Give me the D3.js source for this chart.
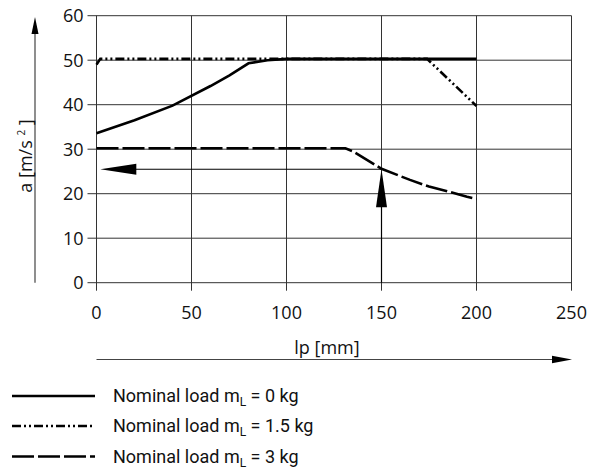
<!DOCTYPE html>
<html>
<head>
<meta charset="utf-8">
<script src="https://cdn.jsdelivr.net/npm/d3@7"></script>
<style>
  body { margin: 0; background: #fff; }
  svg { display: block; }
</style>
</head>
<body>
<svg id="chart" width="592" height="470"></svg>
<script>
// Acceleration vs. stroke chart

const xTicks = [0, 50, 100, 150, 200, 250];
const yTicks = [0, 10, 20, 30, 40, 50, 60];

// Nominal load 0 kg
const load0 = [
    {x: 0, y: 33.6}, {x: 20, y: 36.5}, {x: 40, y: 39.8}, {x: 60, y: 44.2},
    {x: 70, y: 46.6}, {x: 80, y: 49.3}, {x: 90, y: 50.0}, {x: 100, y: 50.3},
    {x: 200, y: 50.3}
];
// Nominal load 1.5 kg
const load15 = [
    {x: 0, y: 49.0}, {x: 2, y: 50.3}, {x: 174, y: 50.3}, {x: 200, y: 39.7}
];
// Nominal load 3 kg
const load3 = [
    {x: 0, y: 30.2}, {x: 131, y: 30.2}, {x: 135, y: 29.5}, {x: 150, y: 25.6},
    {x: 165, y: 23.1}, {x: 175, y: 21.6}, {x: 185, y: 20.5}, {x: 195, y: 19.3},
    {x: 200, y: 18.8}
];

// Reading example: lp = 150 mm -> a = 25.5 m/s²
const readX = 150;
const readY = 25.5;

const legendLabels = ["0 kg", "1.5 kg", "3 kg"];

const svg = d3.select("#chart");

const x = d3.scaleLinear().domain([0, 250]).range([96.5, 571.5]);
const y = d3.scaleLinear().domain([0, 60]).range([282.7, 15.7]);

const gridColor = "#333";
const font = "Open Sans, sans-serif";

// Grid
svg.append("g")
    .selectAll("line")
    .data(yTicks)
    .enter()
    .append("line")
    .attr("x1", x(0) - 9)
    .attr("x2", x(250))
    .attr("y1", d => y(d))
    .attr("y2", d => y(d))
    .attr("stroke", gridColor)
    .attr("stroke-width", 1);

svg.append("g")
    .selectAll("line")
    .data(xTicks)
    .enter()
    .append("line")
    .attr("x1", d => x(d))
    .attr("x2", d => x(d))
    .attr("y1", y(60))
    .attr("y2", y(0) + 8)
    .attr("stroke", gridColor)
    .attr("stroke-width", 1);

// Tick labels
svg.append("g")
    .selectAll("text")
    .data(yTicks)
    .enter()
    .append("text")
    .attr("x", x(0) - 13)
    .attr("y", d => y(d))
    .attr("dy", "0.36em")
    .attr("text-anchor", "end")
    .attr("font-family", font)
    .attr("font-size", "18px")
    .attr("fill", "#111")
    .text(d => d);

svg.append("g")
    .selectAll("text")
    .data(xTicks)
    .enter()
    .append("text")
    .attr("x", d => x(d))
    .attr("y", y(0) + 36)
    .attr("text-anchor", "middle")
    .attr("font-family", font)
    .attr("font-size", "18px")
    .attr("fill", "#111")
    .text(d => d);

// Data lines
const line = d3.line().x(d => x(d.x)).y(d => y(d.y));

const series = [
    {data: load3, dash: "22,4"},
    {data: load15, dash: "9,3,2,3,2,3"},
    {data: load0, dash: null}
];

series.forEach(s => {
    svg.append("path")
        .datum(s.data)
        .attr("d", line)
        .attr("fill", "none")
        .attr("stroke", "#000")
        .attr("stroke-width", 2.6)
        .attr("stroke-dasharray", s.dash);
});

// Reading arrows
svg.append("line")
    .attr("x1", x(readX)).attr("x2", x(readX))
    .attr("y1", y(0)).attr("y2", y(readY) + 10)
    .attr("stroke", "#000").attr("stroke-width", 1.2);
svg.append("path")
    .attr("d", `M${x(readX)},${y(readY)} L${x(readX) - 5.5},${y(readY) + 38} L${x(readX) + 5.5},${y(readY) + 38} Z`)
    .attr("fill", "#000");

svg.append("line")
    .attr("x1", x(readX)).attr("x2", x(2) + 10)
    .attr("y1", y(readY)).attr("y2", y(readY))
    .attr("stroke", "#000").attr("stroke-width", 1.2);
svg.append("path")
    .attr("d", `M${x(2)},${y(readY)} L${x(2) + 36},${y(readY) - 5.5} L${x(2) + 36},${y(readY) + 5.5} Z`)
    .attr("fill", "#000");

// Axis arrows and titles
const arrowColor = "#444";

svg.append("line")
    .attr("x1", 35).attr("x2", 35)
    .attr("y1", y(0)).attr("y2", 28)
    .attr("stroke", arrowColor).attr("stroke-width", 1.2);
svg.append("path")
    .attr("d", "M35,17 L31.5,34 L38.5,34 Z")
    .attr("fill", "#000");

const yLabel = svg.append("text")
    .attr("transform", "translate(32,156) rotate(-90)")
    .attr("text-anchor", "middle")
    .attr("font-family", font)
    .attr("font-size", "18px")
    .attr("fill", "#111");
yLabel.append("tspan").text("a [m/s ");
yLabel.append("tspan").attr("font-size", "10px").attr("dy", "-7").text("2");
yLabel.append("tspan").attr("dy", "7").text(" ]");

svg.append("line")
    .attr("x1", x(0)).attr("x2", 558)
    .attr("y1", 359.5).attr("y2", 359.5)
    .attr("stroke", arrowColor).attr("stroke-width", 1.2);
svg.append("path")
    .attr("d", "M572,359.5 L552,355.8 L552,363.2 Z")
    .attr("fill", "#000");

svg.append("text")
    .attr("x", 327)
    .attr("y", 354)
    .attr("text-anchor", "middle")
    .attr("font-family", font)
    .attr("font-size", "18px")
    .attr("fill", "#111")
    .text("lp [mm]");

// Legend
const legend = svg.append("g");
const legendY = [396, 426, 456.5];

series.slice().reverse().forEach((s, i) => {
    legend.append("line")
        .attr("x1", 12).attr("x2", 95)
        .attr("y1", legendY[i]).attr("y2", legendY[i])
        .attr("stroke", "#000")
        .attr("stroke-width", 2.4)
        .attr("stroke-dasharray", s.dash);

    const t = legend.append("text")
        .attr("x", 113)
        .attr("y", legendY[i] + 6)
        .attr("font-family", "Roboto, sans-serif")
        .attr("font-size", "18px")
        .attr("fill", "#111");
    t.append("tspan").text("Nominal load m");
    t.append("tspan").attr("font-size", "12px").attr("dy", "4").text("L");
    t.append("tspan").attr("dy", "-4").text(" = " + legendLabels[i]);
});
</script>
</body>
</html>
